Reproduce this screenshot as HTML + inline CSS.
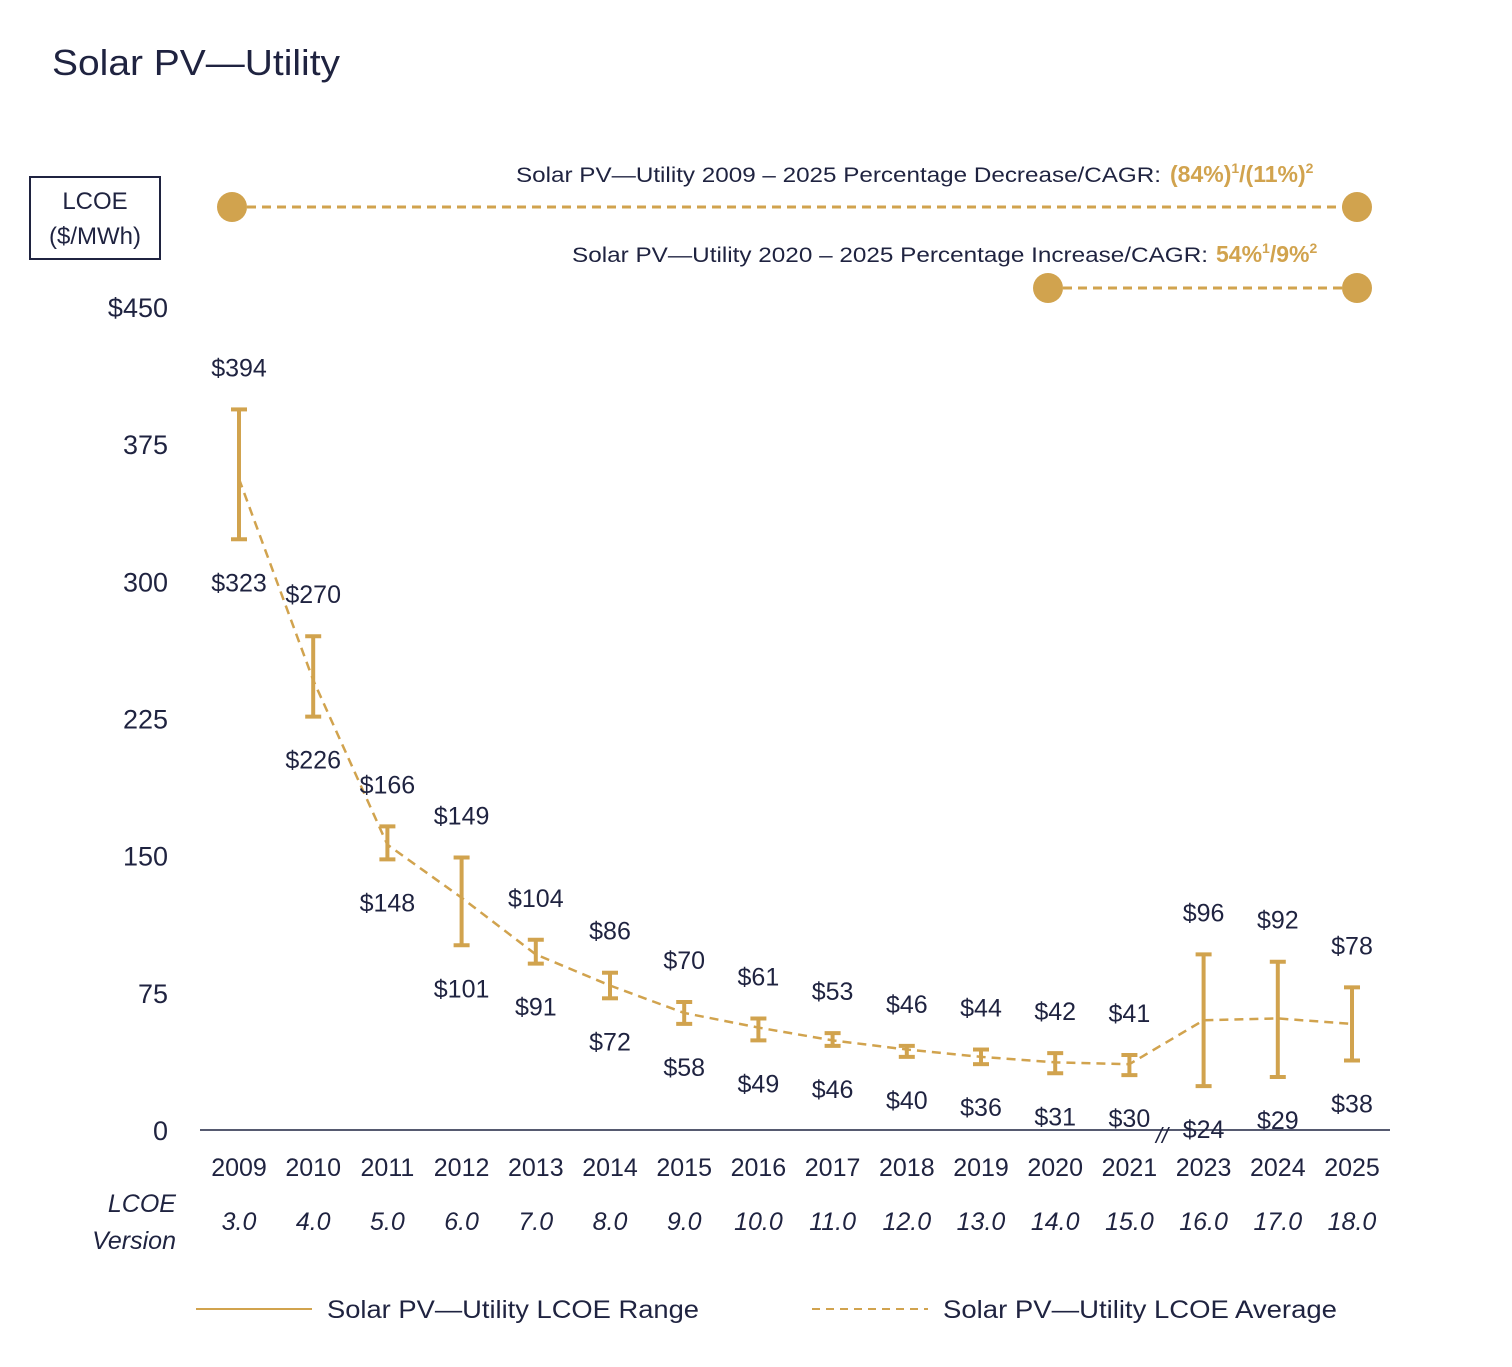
<!DOCTYPE html>
<html><head><meta charset="utf-8"><style>
body{margin:0;background:#fff;width:1512px;height:1362px;overflow:hidden;font-family:"Liberation Sans",sans-serif;}
svg text{font-family:"Liberation Sans",sans-serif;fill:#1f2340;}
</style></head><body>
<svg id="chart" width="1512" height="1362" xmlns="http://www.w3.org/2000/svg">
<text x="52" y="75" font-size="36" textLength="288" lengthAdjust="spacingAndGlyphs">Solar PV—Utility</text>
<rect x="30" y="177" width="130" height="82" fill="none" stroke="#1f2340" stroke-width="2"/>
<text x="95" y="209" font-size="24" text-anchor="middle">LCOE</text>
<text x="95" y="244" font-size="24" text-anchor="middle">($/MWh)</text>
<g>
<text x="516" y="182" font-size="21" textLength="645" lengthAdjust="spacingAndGlyphs">Solar PV—Utility 2009 – 2025 Percentage Decrease/CAGR:</text>
<text x="1170" y="182" font-size="23" font-weight="bold" style="fill:#d1a34e">(84%)<tspan font-size="14" dy="-9">1</tspan><tspan dy="9">/(11%)</tspan><tspan font-size="14" dy="-9">2</tspan></text>
<line x1="232" y1="207" x2="1357" y2="207" stroke="#d1a34e" stroke-width="3" stroke-dasharray="9,6"/>
<circle cx="232" cy="207" r="15" fill="#d1a34e"/><circle cx="1357" cy="207" r="15" fill="#d1a34e"/>
</g>
<g>
<text x="572" y="262" font-size="21" textLength="636" lengthAdjust="spacingAndGlyphs">Solar PV—Utility 2020 – 2025 Percentage Increase/CAGR:</text>
<text x="1216" y="262" font-size="23" font-weight="bold" style="fill:#d1a34e">54%<tspan font-size="14" dy="-9">1</tspan><tspan dy="9">/9%</tspan><tspan font-size="14" dy="-9">2</tspan></text>
<line x1="1048" y1="288" x2="1357" y2="288" stroke="#d1a34e" stroke-width="3" stroke-dasharray="9,6"/>
<circle cx="1048" cy="288" r="15" fill="#d1a34e"/><circle cx="1357" cy="288" r="15" fill="#d1a34e"/>
</g>
<g id="axes"></g>
<g id="marks"></g>
<text x="176" y="1212" font-size="25" font-style="italic" text-anchor="end">LCOE</text>
<text x="176" y="1249" font-size="25" font-style="italic" text-anchor="end">Version</text>
<g>
<line x1="196" y1="1309" x2="312" y2="1309" stroke="#d1a34e" stroke-width="2"/>
<text x="327" y="1318" font-size="25" textLength="372" lengthAdjust="spacingAndGlyphs">Solar PV—Utility LCOE Range</text>
<line x1="812" y1="1309" x2="928" y2="1309" stroke="#d1a34e" stroke-width="2" stroke-dasharray="8,6"/>
<text x="943" y="1318" font-size="25" textLength="394" lengthAdjust="spacingAndGlyphs">Solar PV—Utility LCOE Average</text>
</g>
</svg>
<script>
const years=["2009","2010","2011","2012","2013","2014","2015","2016","2017","2018","2019","2020","2021","2023","2024","2025"];
const versions=["3.0","4.0","5.0","6.0","7.0","8.0","9.0","10.0","11.0","12.0","13.0","14.0","15.0","16.0","17.0","18.0"];
const highs=[394,270,166,149,104,86,70,61,53,46,44,42,41,96,92,78];
const lows=[323,226,148,101,91,72,58,49,46,40,36,31,30,24,29,38];
const avgs=[356,246,156,127,96,79,64,56,49,44,40,37,36,60,61,58];
const yTicks=[0,75,150,225,300,375,450];
const NS="http://www.w3.org/2000/svg";
const x=i=>239+i*74.2;
const y=v=>1130-v*(823/450);
const gold="#d1a34e";
function mk(tag,attrs,parent,text){const e=document.createElementNS(NS,tag);for(const k in attrs)e.setAttribute(k,attrs[k]);if(text!==undefined)e.textContent=text;parent.appendChild(e);return e;}
const axes=document.getElementById('axes'),marks=document.getElementById('marks');
const base=mk('line',{x1:200,y1:1130,x2:1390,y2:1130,stroke:"#1f2340","stroke-width":1.5},axes);


const brk=mk('text',{x:1162,y:1143,"font-size":22,"text-anchor":"middle","font-style":"italic"},axes,"//");


yTicks.forEach(t=>{
 const e=mk('text',{x:168,y:y(t)+10,"font-size":27,"text-anchor":"end"},axes,t===450?"$450":String(t));
 
 
});
years.forEach((yr,i)=>{
 const e=mk('text',{x:x(i),y:1176,"font-size":25,"text-anchor":"middle"},axes,yr);
 
 
 const v=mk('text',{x:x(i),y:1230,"font-size":25,"font-style":"italic","text-anchor":"middle"},axes,versions[i]);
 
 
});
const avgLine=mk('polyline',{points:avgs.map((a,i)=>x(i)+","+y(a)).join(" "),fill:"none",stroke:gold,"stroke-width":2.5,"stroke-dasharray":"9,6"},marks);


years.forEach((yr,i)=>{
 const g=mk('g',{},marks);
 
 
 const xi=x(i),yh=y(highs[i]),yl=y(lows[i]);
 mk('line',{x1:xi,y1:yh,x2:xi,y2:yl,stroke:gold,"stroke-width":4},g);
 mk('line',{x1:xi-8,y1:yh,x2:xi+8,y2:yh,stroke:gold,"stroke-width":4},g);
 mk('line',{x1:xi-8,y1:yl,x2:xi+8,y2:yl,stroke:gold,"stroke-width":4},g);
 const hl=mk('text',{x:xi,y:yh-33,"font-size":25,"text-anchor":"middle"},g,"$"+highs[i]);
 
 
 const ll=mk('text',{x:xi,y:yl+52,"font-size":25,"text-anchor":"middle"},g,"$"+lows[i]);
 
 
});
</script>
</body></html>
